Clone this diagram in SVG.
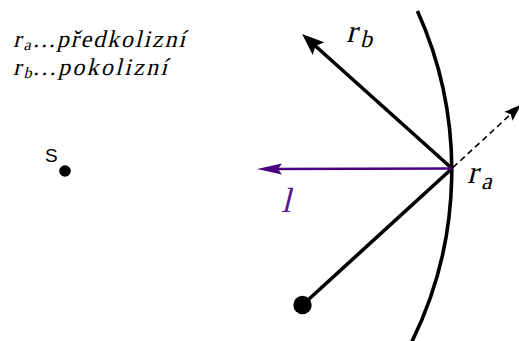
<svg xmlns="http://www.w3.org/2000/svg" width="519" height="341" viewBox="0 0 519 341">
<style>
.bg{fill:#ffffff}
.thick{stroke:#000;stroke-width:3.6;fill:none}
.dash{stroke:#000;stroke-width:1.6;fill:none;stroke-dasharray:6 4}
.purple{stroke:#4B0082;stroke-width:2.4;fill:none}
.math{font-family:"Liberation Serif","DejaVu Serif",serif;font-style:normal;fill:#000}
.sans{font-family:"Liberation Sans",Arial,sans-serif;fill:#000}
.plabel{fill:#5b1a8b}
</style>
<defs>
<marker id="headB" markerUnits="userSpaceOnUse" viewBox="-11 -10 24 20" refX="0" refY="0" markerWidth="24" markerHeight="20" orient="auto">
<path d="M12,0 L-10,-8.5 L-6,0 L-10,8.5 Z" fill="#000" stroke="none"/>
</marker>
<marker id="headD" markerUnits="userSpaceOnUse" viewBox="-9 -7 19 14" refX="0" refY="0" markerWidth="19" markerHeight="14" orient="auto">
<path d="M9,0 L-8,-6 L-5,0 L-8,6 Z" fill="#000" stroke="none"/>
</marker>
<marker id="headP" markerUnits="userSpaceOnUse" viewBox="-14 -7 27 14" refX="0" refY="0" markerWidth="27" markerHeight="14" orient="auto">
<path d="M12,0 L-13,-5.5 L-9,0 L-13,5.5 Z" fill="#4B0082" stroke="none"/>
</marker>
</defs>
<rect class="bg" x="0" y="0" width="519" height="341"/>

<g id="legend">
<text class="math" transform="translate(13,47) skewX(-14)" font-size="24">r</text>
<text class="math" transform="translate(23.5,50) skewX(-14)" font-size="16">a</text>
<text class="math" transform="translate(33,47) skewX(-14)" font-size="24" textLength="152" lengthAdjust="spacing">...předkolizní</text>
<text class="math" transform="translate(13,75) skewX(-14)" font-size="24">r</text>
<text class="math" transform="translate(23.5,78) skewX(-14)" font-size="16">b</text>
<text class="math" transform="translate(33,75) skewX(-14)" font-size="24" textLength="134" lengthAdjust="spacing">...pokolizní</text>
</g>

<g id="wall">
<path class="thick" d="M417.4 11 A387 387 0 0 1 410.2 345"/>
</g>

<g id="connectors">
<line class="thick" x1="302.5" y1="305" x2="452" y2="168.5"/>
<line class="dash" x1="453" y1="167.5" x2="514.4" y2="110.8" marker-end="url(#headD)"/>
<line class="thick" x1="452" y1="168.5" x2="311" y2="42" marker-end="url(#headB)"/>
<line class="purple" x1="452" y1="168.5" x2="269" y2="169" marker-end="url(#headP)"/>
</g>

<g id="node-S">
<circle cx="65" cy="171" r="5.8" fill="#000"/>
<text class="sans" x="45" y="162" font-size="19">S</text>
</g>

<g id="node-ball">
<circle cx="302.5" cy="305" r="9.2" fill="#000"/>
</g>

<g id="label-rb">
<text class="math" transform="translate(346,42) skewX(-14)" font-size="32">r</text>
<text class="math" transform="translate(360,47) skewX(-14)" font-size="24">b</text>
</g>

<g id="label-ra">
<text class="math" transform="translate(467,183) skewX(-14)" font-size="32">r</text>
<text class="math" transform="translate(481,189) skewX(-14)" font-size="24">a</text>
</g>

<g id="label-l">
<text class="math plabel" transform="translate(281,212) skewX(-14)" font-size="35">l</text>
</g>
</svg>
